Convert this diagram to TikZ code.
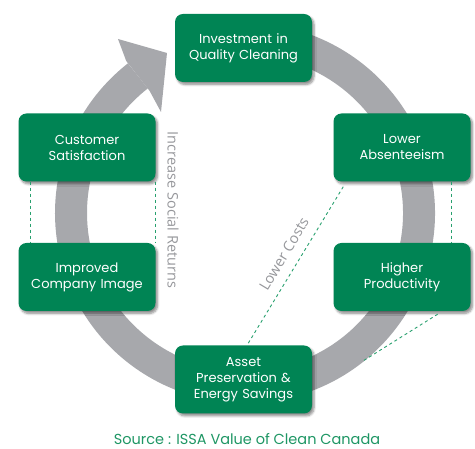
\documentclass[tikz,border=0pt]{standalone}
\usepackage{fontspec}
\setmainfont{Poppins}
\newfontfamily\labelfont{Open Sans}
\usetikzlibrary{shadows.blur,calc}
\definecolor{boxgreen}{RGB}{0,132,84}
\definecolor{ringgray}{RGB}{167,168,172}
\definecolor{dashgreen}{RGB}{40,160,110}
\definecolor{labelgray}{RGB}{150,151,155}
\definecolor{sourcegreen}{RGB}{30,150,100}
\tikzset{
  stagebox/.style={rectangle, rounded corners=8pt, fill=boxgreen, text=white,
    minimum width=137pt, minimum height=68pt, text width=132pt, align=center,
    inner sep=0pt, font=\fontsize{13}{16}\selectfont,
    blur shadow={shadow xshift=2pt, shadow yshift=-2.5pt, shadow blur steps=6, shadow opacity=45}},
  dashlink/.style={draw=dashgreen, line width=0.9pt, dash pattern=on 3pt off 3pt},
  sidelabel/.style={text=labelgray, font=\labelfont\fontsize{14.5}{16}\selectfont, inner sep=0pt}
}
\begin{document}
\begin{tikzpicture}[x=1pt,y=1pt]
\useasboundingbox (0,0) rectangle (475,449);
\coordinate (c) at (245,236);
% ring with arrow
\draw[ringgray, line width=32pt] ($(c)+(100:174)$) arc[start angle=100, end angle=-232, radius=174];
\coordinate (wa) at (118,410);
\coordinate (tip) at (167,396);
\coordinate (wb) at (161,337);
\fill[ringgray] (wa) -- (tip) -- (wb) -- ($(c)+(128:155)$) -- ($(c)+(128:193)$) -- cycle;
% nodes
\node[stagebox] (inv) at (243.5,401) {Investment in\\Quality Cleaning};
\node[stagebox] (cust) at (87,301.5) {Customer\\Satisfaction};
\node[stagebox] (abs) at (402,301.5) {Lower\\Absenteeism};
\node[stagebox] (img) at (87,172) {Improved\\Company Image};
\node[stagebox] (prod) at (402,172) {Higher\\Productivity};
\node[stagebox] (asset) at (243.5,69.5) {Asset\\Preservation \&\\Energy Savings};
% dashed links
\draw[dashlink] ([xshift=12pt]cust.south west) -- ([xshift=12pt]img.north west);
\draw[dashlink] ([xshift=-0.5pt]cust.south east) -- ([xshift=-0.5pt]img.north east);
\draw[dashlink] ([xshift=-19pt]abs.south east) -- ([xshift=-19pt]prod.north east);
\draw[dashlink] ([shift={(10pt,-5pt)}]abs.south west) -- ([xshift=3.5pt]asset.north);
\coordinate (pend) at (363,88);
\draw[dashlink] ([shift={(-33pt,-3pt)}]prod.south east) -- (pend);
% labels
\node[sidelabel, rotate=-90] (social) at (173,239) {Increase Social Returns};
\node[sidelabel, rotate=59] (costs) at (284,195) {Lower Costs};
\node[text=sourcegreen, font=\fontsize{14.5}{16}\selectfont, inner sep=0pt] (src) at (247,10) {Source : ISSA Value of Clean Canada};
\end{tikzpicture}
\end{document}
